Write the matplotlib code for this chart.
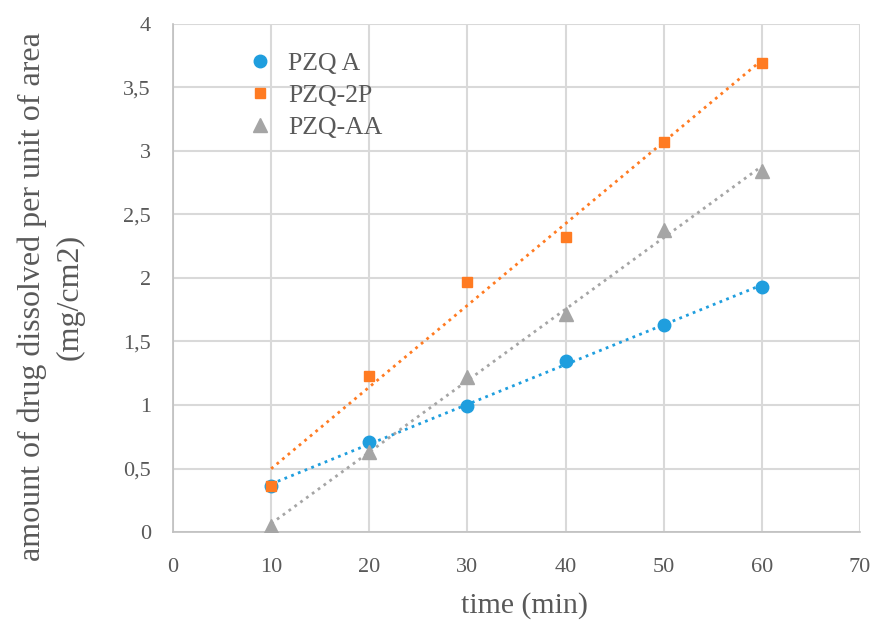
import numpy as np
import matplotlib.pyplot as plt
from matplotlib.ticker import FuncFormatter

time = [10, 20, 30, 40, 50, 60]
pzq_a = [0.36, 0.71, 0.99, 1.35, 1.63, 1.93]
pzq_2p = [0.36, 1.23, 1.97, 2.32, 3.07, 3.69]
pzq_aa = [0.05, 0.63, 1.22, 1.72, 2.38, 2.84]

series = [
    ("PZQ A", pzq_a, "#1f9ede", "o", 9),
    ("PZQ-2P", pzq_2p, "#ff7b22", "s", 7.5),
    ("PZQ-AA", pzq_aa, "#a5a5a5", "^", 9.5),
]

plt.rcParams['font.family'] = ['Liberation Serif', 'DejaVu Serif']
txt = "#595959"

fig = plt.figure(figsize=(8.89, 6.21), dpi=100)
ax = fig.add_axes([0.1946, 0.1433, 0.7728, 0.8181])

x = np.array(time)
for name, y, c, m, ms in series:
    ax.plot(x, y, linestyle="none", marker=m, color=c, markersize=ms, label=name, zorder=3)
    # linear trend line
    k, b = np.polyfit(x, y, 1)
    ax.plot(x, k * x + b, linestyle=(0, (1, 1.6)), color=c, linewidth=2, zorder=2)

ax.set_xlim(0, 70)
ax.set_ylim(0, 4)
ax.set_xticks(range(0, 71, 10))
ax.set_yticks(np.arange(0, 4.01, 0.5))
ax.yaxis.set_major_formatter(FuncFormatter(lambda v, p: ("%g" % v).replace(".", ",")))
ax.grid(True, color="#d9d9d9", linewidth=1.5)
ax.set_axisbelow(True)
for s in ["top", "right"]:
    ax.spines[s].set_visible(False)
for s in ["left", "bottom"]:
    ax.spines[s].set_color("#bfbfbf")
    ax.spines[s].set_linewidth(1.2)
ax.tick_params(length=0, labelsize=16, labelcolor=txt)
ax.tick_params(axis="x", pad=19)
ax.tick_params(axis="y", pad=16)

ax.set_xlabel("time (min)", fontsize=21.5, color=txt)
ax.xaxis.set_label_coords(0.511, -0.118)
fig.text(51 / 889, 1 - 297 / 621, "amount of drug dissolved per unit of area\n(mg/cm2)",
         rotation=90, ha="center", va="center", fontsize=23, color=txt, linespacing=1.38)

leg = ax.legend(loc="upper left", bbox_to_anchor=(0.07, 0.99), frameon=False,
                fontsize=18.5, labelcolor=txt, handletextpad=0.5, labelspacing=0.35,
                handlelength=1.2)

fig.savefig("out.png", dpi=100)
